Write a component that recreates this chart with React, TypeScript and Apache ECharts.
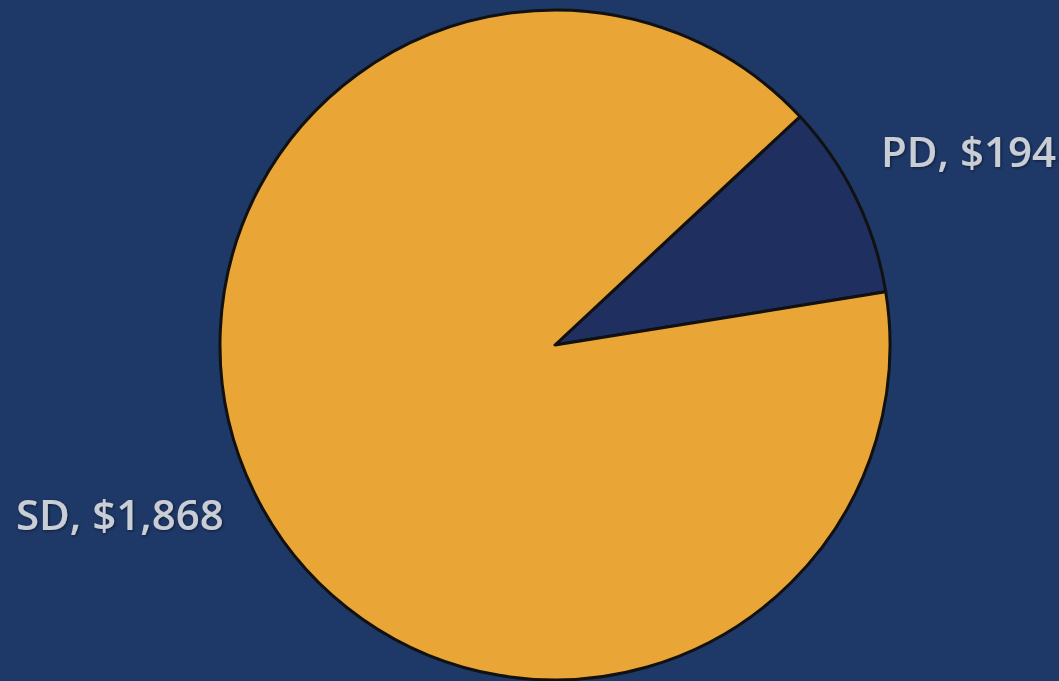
import React, { useEffect, useRef } from "react";
import * as echarts from "echarts";

const categories = ["PD", "SD"];
const values = [194, 1868];
const labelTexts = ["PD, $194", "SD, $1,868"];
const sliceColors = ["#1f2f60", "#e9a535"];

export default function App() {
  const ref = useRef<HTMLDivElement>(null);
  useEffect(() => {
    document.body.style.margin = "0";
    const chart = echarts.init(ref.current!, null, { renderer: "svg" });
    const textStyle = {
      fill: "#c9cdd5",
      font: "600 42px 'Open Sans'",
      textVerticalAlign: "middle",
      textShadowColor: "rgba(0,0,0,0.5)",
      textShadowBlur: 3,
      textShadowOffsetX: 1,
      textShadowOffsetY: 1,
    };
    chart.setOption({
      animation: false,
      backgroundColor: "#1e3867",
      series: [
        {
          type: "pie",
          center: [555, 345],
          radius: [0, 335],
          startAngle: 43,
          clockwise: true,
          label: { show: false },
          labelLine: { show: false },
          itemStyle: { borderColor: "#111111", borderWidth: 3 },
          data: categories.map((c, i) => ({
            name: c,
            value: values[i],
            itemStyle: { color: sliceColors[i] },
          })),
        },
      ],
      graphic: [
        { type: "text", x: 881, y: 150, style: { ...textStyle, text: labelTexts[0] } },
        { type: "text", x: 16, y: 513, style: { ...textStyle, text: labelTexts[1] } },
      ],
    });
    return () => chart.dispose();
  }, []);
  return <div ref={ref} style={{ width: 1059, height: 681 }} />;
}
